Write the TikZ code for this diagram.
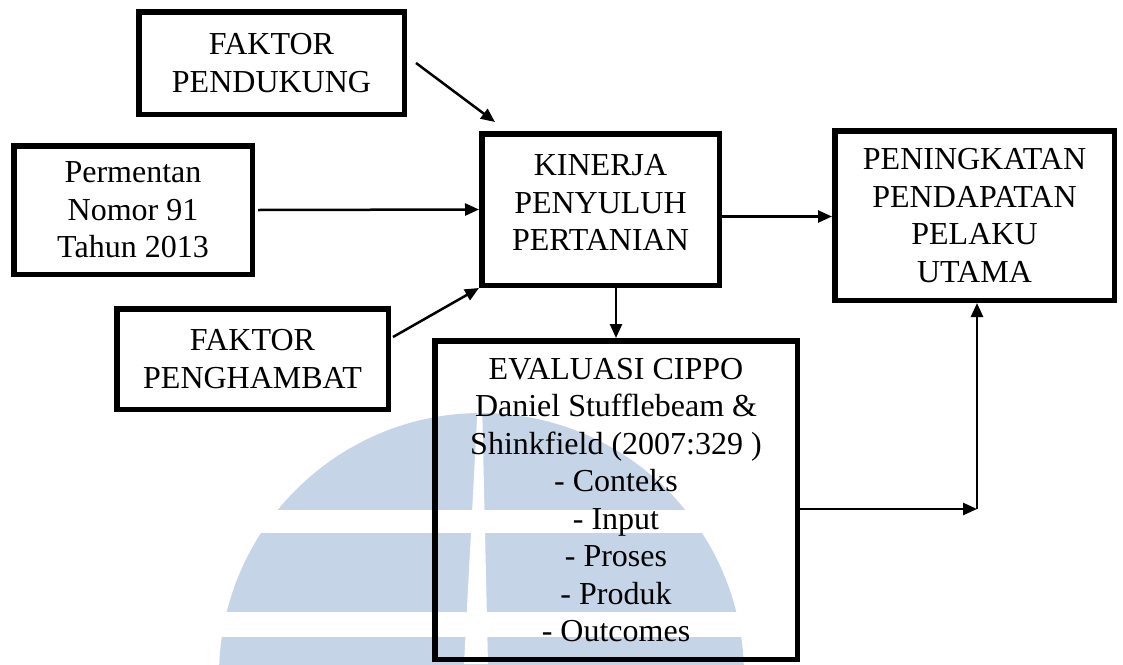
\documentclass[tikz,border=0pt]{standalone}
\usepackage{fontspec}
\setmainfont{Liberation Serif}
\usetikzlibrary{arrows.meta}
\definecolor{wm}{RGB}{198,212,232}
\begin{document}
\begin{tikzpicture}[x=1pt,y=-1pt,
  box/.style={draw, line width=5.5pt, align=center, inner sep=0pt,
    font=\fontsize{32}{37.5}\selectfont},
  arr/.style={line width=2.5pt, -{Triangle[length=14pt,width=12pt]}}]
\useasboundingbox (0,0) rectangle (1123,664);
% watermark
\begin{scope}
  \clip (0,0) rectangle (1123,664);
  \fill[wm] (481.5,675.5) circle[radius=262.5];
  \fill[white] (0,510) rectangle (1123,533);
  \fill[white] (0,612) rectangle (1123,637);
  \fill[white] (478,400) -- (482,400) -- (488,664) -- (464,664) -- cycle;
\end{scope}
% boxes
\node[box, minimum width=265.5pt, minimum height=102.5pt] (pend) at (271.5,63) {FAKTOR\\PENDUKUNG};
\node[box, minimum width=238.5pt, minimum height=128.5pt] (perm) at (133,210) {Permentan\\Nomor 91\\Tahun 2013};
\node[box, minimum width=237.5pt, minimum height=151.5pt] (kin) at (600.5,209.5) {KINERJA\\PENYULUH\\PERTANIAN\rule[-14pt]{0pt}{0pt}};
\node[box, minimum width=271.5pt, minimum height=100.5pt] (hamb) at (252.5,359) {FAKTOR\\PENGHAMBAT};
\node[box, minimum width=362.5pt, minimum height=318.5pt] (eval) at (616,500) {EVALUASI CIPPO\\Daniel Stufflebeam \&\\Shinkfield (2007:329 )\\- Conteks\\- Input\\- Proses\\- Produk\\- Outcomes};
\node[box, minimum width=279.5pt, minimum height=169.5pt] (pen) at (974.5,215.5) {PENINGKATAN\\PENDAPATAN\\PELAKU\\UTAMA};
% connectors
\coordinate (corner) at (977,509);
\draw[arr] ([xshift=9pt]pend.east) -- ([xshift=16pt,yshift=9pt]kin.north west);
\draw[arr] ([xshift=3pt]perm.east) -- (kin.west);
\draw[arr] ([xshift=2pt,yshift=22pt]hamb.east) -- (kin.south west);
\draw[arr] ([yshift=-7pt]kin.east) -- ([yshift=-7pt]kin.east -| pen.west);
\draw[arr] (kin.south -| eval.north) -- (eval.north);
\draw[arr] (eval.east |- corner) -- (corner);
\draw[arr] (corner) -- (corner |- pen.south);
\end{tikzpicture}
\end{document}
